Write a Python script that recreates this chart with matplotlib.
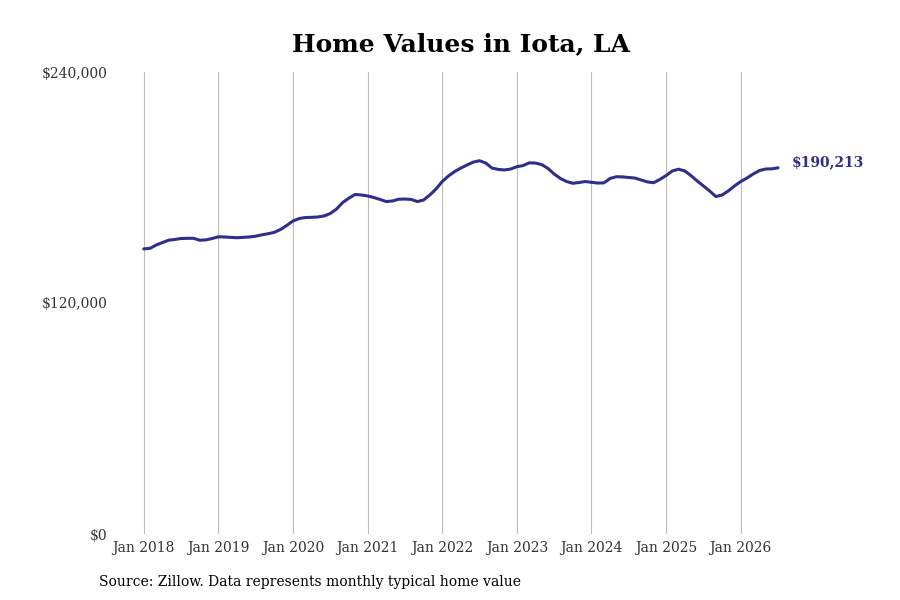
import numpy as np
import matplotlib
matplotlib.use("Agg")
import matplotlib.pyplot as plt

# monthly typical home value, Jan 2018 .. Jul 2026
values = [
    148100, 148400, 150100, 151400, 152600, 153000, 153500, 153600, 153600, 152600, 152800, 153500,
    154400, 154300, 154100, 153900, 154100, 154300, 154700, 155400, 156000, 156700, 158200, 160300,
    162600, 163900, 164400, 164500, 164700, 165200, 166500, 168800, 172200, 174500, 176400, 176100,
    175600, 174800, 173800, 172700, 173000, 173900, 174000, 173800, 172700, 173500, 176100, 179200,
    183100, 186000, 188300, 190100, 191700, 193200, 193900, 192700, 190100, 189400, 189100, 189600,
    190800, 191400, 192800, 192700, 191900, 189900, 187000, 184700, 183100, 182200, 182600, 183100,
    182700, 182300, 182400, 184700, 185600, 185500, 185200, 184900, 183900, 182900, 182500, 184200,
    186200, 188600, 189500, 188600, 186200, 183400, 180800, 178200, 175300, 176100, 178200, 180800,
    183100, 184900, 187000, 188800, 189600, 189700, 190213,
]
year_labels = ["Jan 2018", "Jan 2019", "Jan 2020", "Jan 2021", "Jan 2022",
               "Jan 2023", "Jan 2024", "Jan 2025", "Jan 2026"]
y_ticks = [0, 120000, 240000]
y_labels = ["$0", "$120,000", "$240,000"]

line_color = "#2e2e8c"
plt.rcParams["font.family"] = "DejaVu Serif"

fig = plt.figure(figsize=(9, 6), dpi=100)
ax = fig.add_axes([0.13, 0.11, 0.74, 0.77])

months = np.arange(len(values))
ax.plot(months, values, color=line_color, linewidth=2.2, solid_capstyle="round")

ax.set_xlim(-4.3, 102.8)
ax.set_ylim(0, 240000)
ax.set_xticks(np.arange(len(year_labels)) * 12)
ax.set_xticklabels(year_labels, fontsize=10, color="#333333")
ax.set_yticks(y_ticks)
ax.set_yticklabels(y_labels, fontsize=10, color="#333333")
ax.tick_params(length=0)
ax.tick_params(axis="x", pad=5)
ax.tick_params(axis="y", pad=7)
ax.grid(axis="x", color="#bbbbbb", linewidth=0.8)
ax.grid(axis="y", visible=False)
for s in ax.spines.values():
    s.set_visible(False)

ax.annotate("$190,213", xy=(months[-1], values[-1]), xytext=(10, 4),
            textcoords="offset points", fontsize=10, fontweight="bold",
            color=line_color, va="center", ha="left")

fig.text(0.512, 0.926, "Home Values in Iota, LA", ha="center", va="center",
         fontsize=18, fontweight="bold")
fig.text(0.11, 0.03, "Source: Zillow. Data represents monthly typical home value",
         ha="left", va="center", fontsize=10)

fig.savefig("out.png", dpi=100)
